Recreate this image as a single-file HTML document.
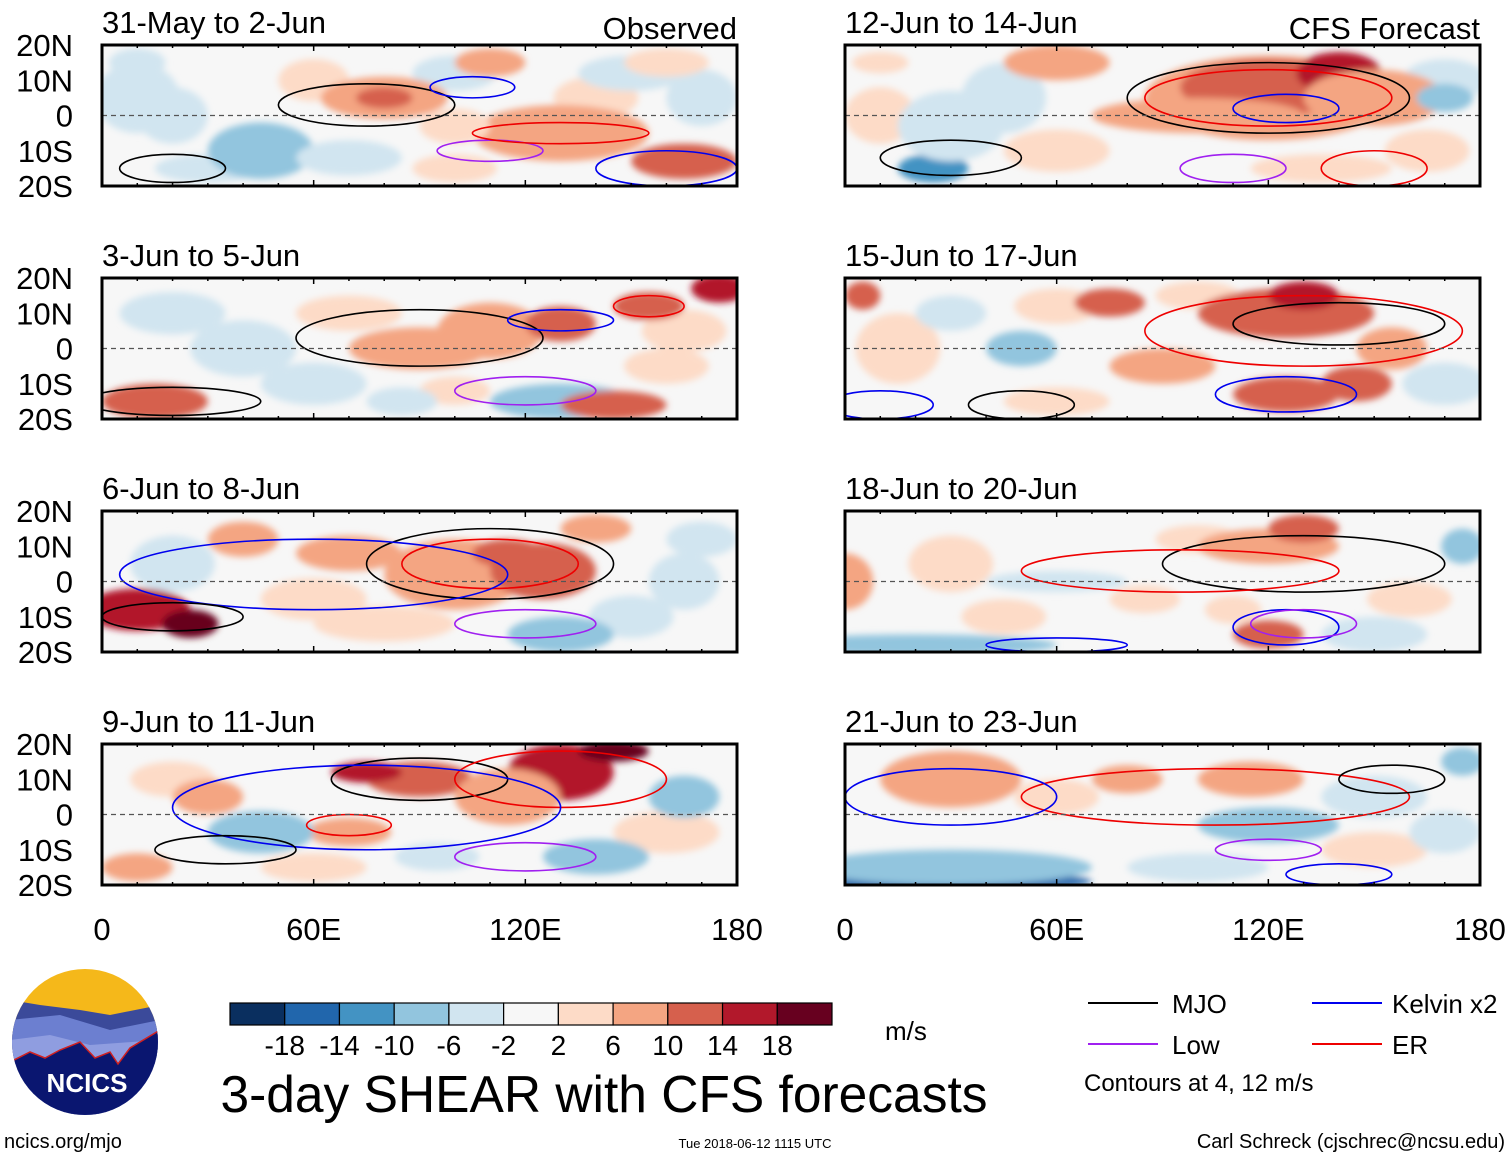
<!DOCTYPE html>
<html><head><meta charset="utf-8"><style>
html,body{margin:0;padding:0;background:#fff}
svg{display:block;font-family:"Liberation Sans",sans-serif}
</style></head><body>
<svg id="chart" width="1510" height="1158" viewBox="0 0 1510 1158" xmlns="http://www.w3.org/2000/svg">
<defs>
<filter id="blur" x="-20%" y="-20%" width="140%" height="140%"><feGaussianBlur stdDeviation="3.5"/></filter>
<clipPath id="logoclip"><circle cx="85" cy="1042" r="73"/></clipPath>
</defs>
<g id="panels"></g>
<g id="legendbar"></g>
<g clip-path="url(#logoclip)">
<rect x="10" y="968" width="150" height="150" fill="#f5b81a"/>
<path d="M10,1000 L40,1005 L80,1010 L110,1015 L160,1005 L160,1118 L10,1118Z" fill="#3b4a9a"/>
<path d="M10,1020 L60,1015 L110,1030 L160,1020 L160,1118 L10,1118Z" fill="#6c7fd0"/>
<path d="M10,1040 L50,1035 L90,1045 L160,1040 L160,1118 L10,1118Z" fill="#8f9de0"/>
<path d="M10,1062 L30,1052 L45,1058 L60,1050 L80,1042 L95,1058 L110,1052 L118,1064 L130,1048 L160,1030 L160,1118 L10,1118Z" fill="#0a1670" stroke="#d02020" stroke-width="1.5"/>
</g>
<text x="87" y="1092" font-size="26" font-weight="bold" fill="#fff" text-anchor="middle">NCICS</text>
<text x="4" y="1148" font-size="20">ncics.org/mjo</text>
<text x="604" y="1112" font-size="51.5" text-anchor="middle">3-day SHEAR with CFS forecasts</text>
<text x="755" y="1148" font-size="13" text-anchor="middle">Tue 2018-06-12 1115 UTC</text>
<text x="1505" y="1148" font-size="20" text-anchor="end">Carl Schreck (cjschrec@ncsu.edu)</text>
<text x="885" y="1040" font-size="26">m/s</text>
<g>
<line x1="1088" y1="1003" x2="1158" y2="1003" stroke="#000" stroke-width="2"/>
<text x="1172" y="1013" font-size="26">MJO</text>
<line x1="1312" y1="1003" x2="1382" y2="1003" stroke="#0000ee" stroke-width="2"/>
<text x="1392" y="1013" font-size="26">Kelvin x2</text>
<line x1="1088" y1="1044" x2="1158" y2="1044" stroke="#a020f0" stroke-width="2"/>
<text x="1172" y="1054" font-size="26">Low</text>
<line x1="1312" y1="1044" x2="1382" y2="1044" stroke="#ee0000" stroke-width="2"/>
<text x="1392" y="1054" font-size="26">ER</text>
<text x="1084" y="1091" font-size="24">Contours at 4, 12 m/s</text>
</g>
</svg>
<script>
const colors=["#0a2f5f","#2166ac","#4393c3","#92c5de","#d1e5f0","#f7f7f7","#fddbc7","#f4a582","#d6604d","#b2182b","#67001f"];
const cbLabels=["-18","-14","-10","-6","-2","2","6","10","14","18"];
const latTicks=["20N","10N","0","10S","20S"];
const latVals=[20,10,0,-10,-20];
const lonTicks=["0","60E","120E","180"];
const lonVals=[0,60,120,180];
const panelTitles=["31-May to 2-Jun","12-Jun to 14-Jun","3-Jun to 5-Jun","15-Jun to 17-Jun","6-Jun to 8-Jun","18-Jun to 20-Jun","9-Jun to 11-Jun","21-Jun to 23-Jun"];
// blobs: lon, lat, rx(deg), ry(deg), color index
const blobs1=[[10,5,12,10,4],[60,10,10,6,6],[100,12,12,5,4],[140,5,12,6,6],[170,5,10,8,4],[100,-15,12,4,6],[30,-15,15,4,4],[80,5,18,6,7],[80,5,8,3,8],[130,-5,25,8,7],[165,-13,15,5,8],[150,12,15,5,4],[45,-10,15,8,3],[20,0,10,8,4],[70,-12,15,5,4],[110,15,10,4,7],[160,15,12,4,6],[10,15,8,4,4],[100,-3,10,5,6]];
const blobs2=[[10,0,10,8,6],[45,5,12,10,4],[170,10,12,6,4],[60,-10,15,6,6],[165,-10,12,6,6],[120,5,35,12,7],[120,8,25,8,8],[140,12,12,6,9],[60,15,15,5,7],[100,0,30,5,7],[150,5,20,8,7],[25,-15,10,4,2],[30,-3,15,10,4],[170,5,8,4,3],[10,15,8,3,6],[135,-15,20,4,6]];
const blobs3=[[20,10,15,6,4],[70,10,15,5,6],[60,-10,15,6,4],[100,-12,10,4,6],[165,5,12,6,6],[110,5,15,8,7],[90,0,20,6,7],[130,7,10,5,8],[175,17,8,4,9],[155,12,10,4,8],[15,-15,15,5,8],[130,-15,20,5,3],[85,-15,10,4,4],[40,0,15,8,4],[160,-5,12,5,6],[145,-16,15,4,8]];
const blobs4=[[15,0,12,10,6],[60,12,12,5,6],[100,15,12,4,6],[170,-10,12,6,4],[60,-15,15,4,6],[125,10,25,7,8],[130,15,10,4,9],[75,13,10,4,8],[90,-5,15,5,7],[145,-10,10,5,8],[125,-13,15,5,8],[155,0,10,6,7],[50,0,10,5,3],[30,10,10,5,4],[5,15,5,4,8]];
const blobs5=[[20,5,12,8,4],[60,-5,15,6,6],[170,12,10,5,4],[150,-10,12,6,4],[10,-8,15,6,9],[25,-12,8,4,10],[100,2,20,10,7],[125,3,15,8,8],[115,8,10,4,8],[70,8,15,5,7],[40,12,10,5,7],[130,-15,15,5,3],[165,0,10,8,4],[80,-12,20,5,6],[140,15,10,4,7]];
const blobs6=[[30,5,12,8,6],[45,-10,12,5,6],[100,12,12,4,6],[160,-5,12,5,6],[120,10,20,5,7],[130,15,10,4,8],[85,-5,10,4,6],[110,-8,8,4,6],[120,-15,10,4,8],[0,0,8,8,7],[20,-18,40,3,3],[60,0,20,3,4],[175,10,6,5,3],[150,-15,15,5,4]];
const blobs7=[[160,-5,15,6,6],[20,10,12,5,6],[95,-12,12,4,4],[60,-15,15,4,6],[90,10,15,5,8],[75,12,10,3,9],[130,12,15,8,9],[145,18,10,3,10],[115,5,15,8,7],[70,-5,12,4,7],[45,-5,15,6,3],[30,5,10,5,7],[140,-12,15,5,3],[165,5,10,6,3],[10,-15,10,4,7]];
const blobs8=[[60,5,12,5,6],[150,-10,15,5,6],[170,-5,10,6,4],[30,10,20,8,7],[80,10,10,4,7],[115,10,15,5,7],[20,-19,50,3,1],[30,-15,40,5,3],[120,-3,20,5,3],[100,-15,20,4,4],[175,15,6,4,3],[150,5,15,6,4]];
const allBlobs=[blobs1,blobs2,blobs3,blobs4,blobs5,blobs6,blobs7,blobs8];
// contours: lon, lat, rx, ry, type
const cont1=[[75,3,25,6,"k"],[20,-15,15,4,"k"],[105,8,12,3,"b"],[160,-15,20,5,"b"],[110,-10,15,3,"p"],[130,-5,25,3,"r"]];
const cont2=[[120,5,40,10,"k"],[120,5,35,8,"r"],[125,2,15,4,"b"],[110,-15,15,4,"p"],[150,-15,15,5,"r"],[30,-12,20,5,"k"]];
const cont3=[[90,3,35,8,"k"],[130,8,15,3,"b"],[120,-12,20,4,"p"],[20,-15,25,4,"k"],[155,12,10,3,"r"]];
const cont4=[[130,5,45,10,"r"],[140,7,30,6,"k"],[125,-13,20,5,"b"],[10,-16,15,4,"b"],[50,-16,15,4,"k"]];
const cont5=[[110,5,35,10,"k"],[110,5,25,7,"r"],[60,2,55,10,"b"],[20,-10,20,4,"k"],[120,-12,20,4,"p"]];
const cont6=[[130,5,40,8,"k"],[95,3,45,6,"r"],[125,-13,15,5,"b"],[130,-12,15,4,"p"],[60,-18,20,2,"b"]];
const cont7=[[90,10,25,6,"k"],[130,10,30,8,"r"],[75,2,55,12,"b"],[35,-10,20,4,"k"],[120,-12,20,4,"p"],[70,-3,12,3,"r"]];
const cont8=[[105,5,55,8,"r"],[155,10,15,4,"k"],[120,-10,15,3,"p"],[30,5,30,8,"b"],[140,-17,15,3,"b"]];
const allConts=[cont1,cont2,cont3,cont4,cont5,cont6,cont7,cont8];
const ccol={k:"#000",b:"#0000ee",p:"#a020f0",r:"#ee0000"};
const NS="http://www.w3.org/2000/svg";
const W=635,H=141,lefts=[102,845],tops=[45,278,511,744];
function mk(t,a,p){const e=document.createElementNS(NS,t);for(const k in a)e.setAttribute(k,a[k]);p.appendChild(e);return e;}
const root=document.getElementById('panels');
for(let i=0;i<8;i++){
 const x0=lefts[i%2],y0=tops[Math.floor(i/2)];
 const xs=lon=>x0+lon/180*W, ys=lat=>y0+(20-lat)/40*H;
 const g=mk('g',{},root);
 
 
 const cid='clip'+i;
 const cp=mk('clipPath',{id:cid},g);mk('rect',{x:x0,y:y0,width:W,height:H},cp);
 const inner=mk('g',{'clip-path':'url(#'+cid+')'},g);
 mk('rect',{x:x0,y:y0,width:W,height:H,fill:"#f7f7f7"},inner);
 const bg=mk('g',{filter:'url(#blur)'},inner);
 allBlobs[i].forEach(b=>{
  const e=mk('ellipse',{cx:xs(b[0]),cy:ys(b[1]),rx:b[2]/180*W,ry:b[3]/40*H,fill:colors[b[4]]},bg);
  
  
 });
 allConts[i].forEach(c=>{
  const e=mk('ellipse',{cx:xs(c[0]),cy:ys(c[1]),rx:c[2]/180*W,ry:c[3]/40*H,fill:"none",stroke:ccol[c[4]],'stroke-width':1.6},inner);
  
  
 });
 mk('line',{x1:x0,y1:ys(0),x2:x0+W,y2:ys(0),stroke:"#555",'stroke-dasharray':"5,4",'stroke-width':1.2},inner);
 const fr=mk('rect',{x:x0,y:y0,width:W,height:H,fill:"none",stroke:"#000",'stroke-width':3},g);
 
 
 for(let l=0;l<=180;l+=10){const big=l%60==0;
  mk('line',{x1:xs(l),y1:y0,x2:xs(l),y2:y0+(big?6:3),stroke:"#000",'stroke-width':1.5},g);
  mk('line',{x1:xs(l),y1:y0+H,x2:xs(l),y2:y0+H-(big?6:3),stroke:"#000",'stroke-width':1.5},g);}
 const t=mk('text',{x:x0,y:y0-12,'font-size':31},g);t.textContent=panelTitles[i];
 
 
 if(i==0||i==1){const s=mk('text',{x:x0+W,y:y0-6,'font-size':31,'text-anchor':'end'},g);s.textContent=i==0?"Observed":"CFS Forecast";
  
  }
 if(i%2==0){latVals.forEach((v,j)=>{const tx=mk('text',{x:73,y:ys(v)+11,'font-size':31,'text-anchor':'end'},g);tx.textContent=latTicks[j];
  
  });}
 if(i>=6){lonVals.forEach((v,j)=>{const tx=mk('text',{x:xs(v),y:940,'font-size':31,'text-anchor':'middle'},g);tx.textContent=lonTicks[j];
  
  });}
}
const cb=document.getElementById('legendbar');
const cbx=230,cbw=602/11;
colors.forEach((c,j)=>{const r=mk('rect',{x:cbx+j*cbw,y:1003,width:cbw,height:22,fill:c,stroke:"#000",'stroke-width':1.2},cb);
 
 });
cbLabels.forEach((s,j)=>{const t=mk('text',{x:cbx+(j+1)*cbw,y:1055,'font-size':28,'text-anchor':'middle'},cb);t.textContent=s;
 
 });
</script>
</body></html>
